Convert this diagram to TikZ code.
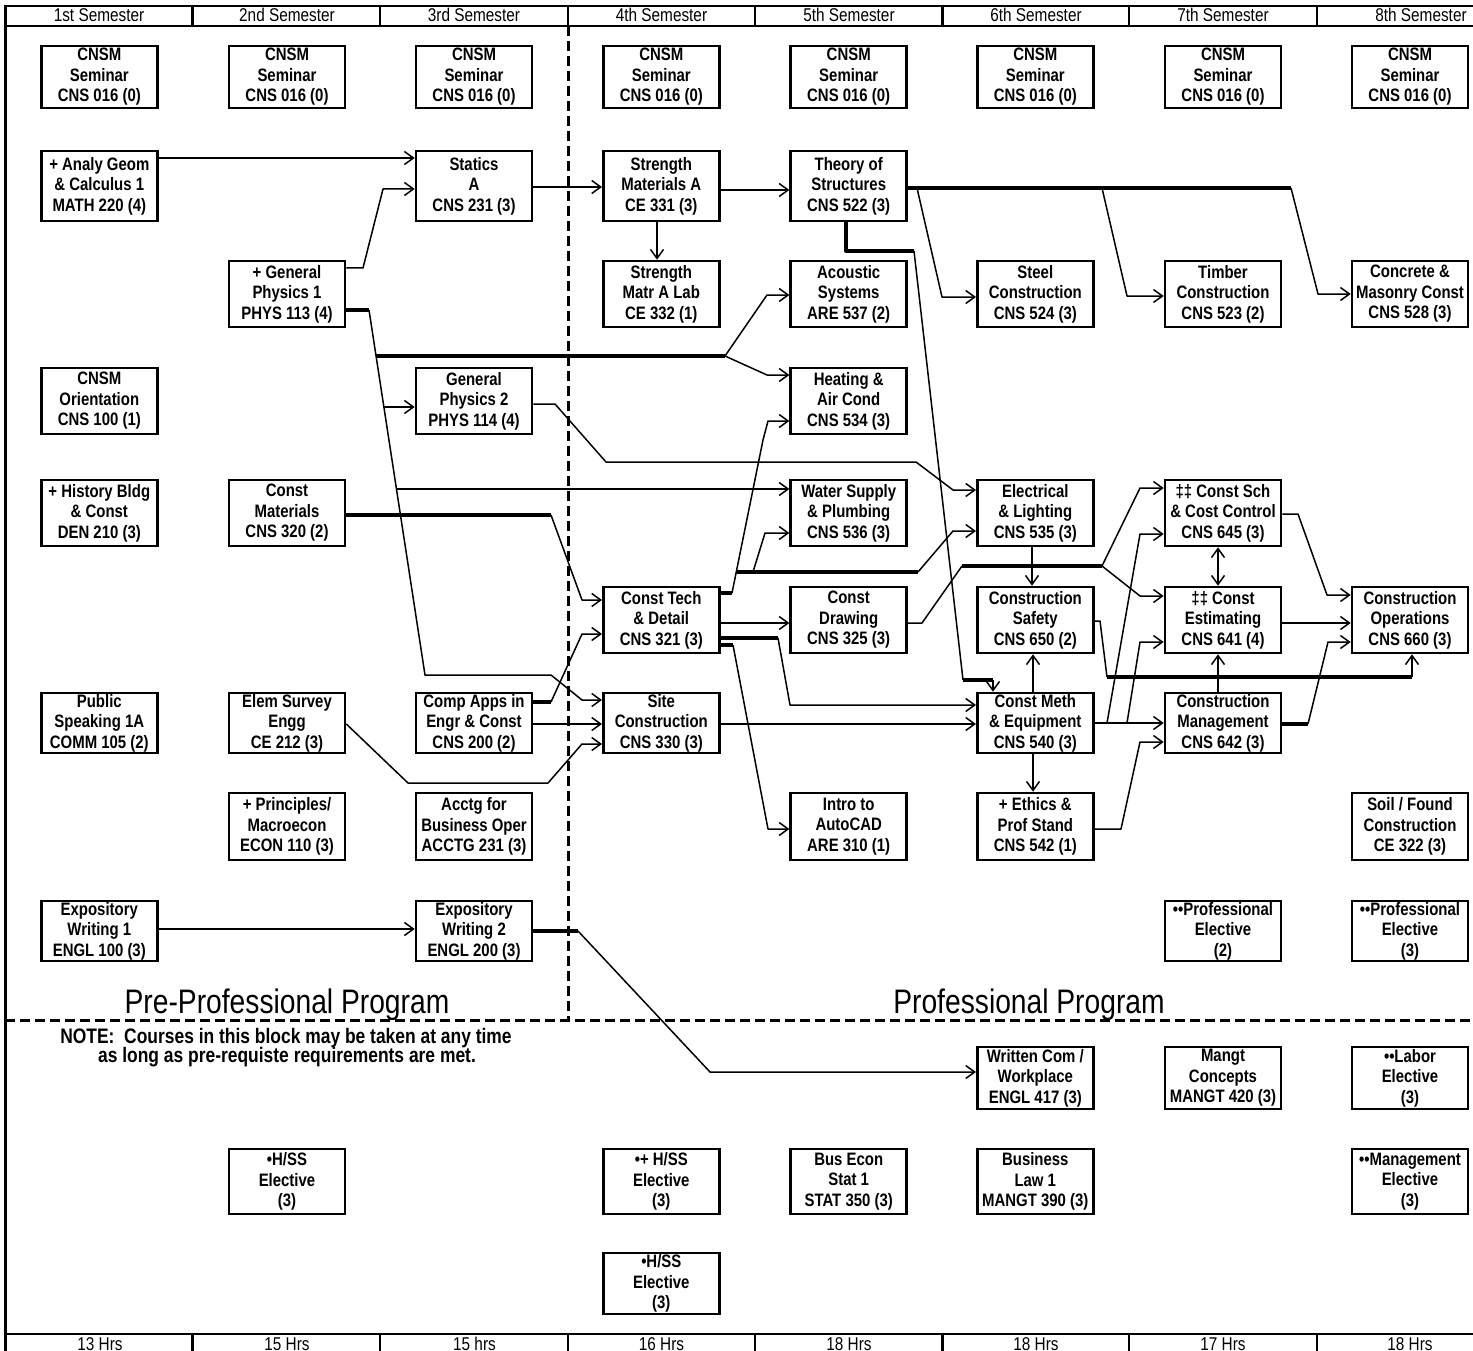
\documentclass[tikz,border=0pt]{standalone}
\usepackage{fontspec}
\setmainfont{Liberation Sans}[FakeStretch=0.83]
\usetikzlibrary{arrows.meta}
\newcommand\bxf{\bfseries\fontsize{18}{20.5}\selectfont}
\newcommand\hdf{\fontsize{18.5}{20}\selectfont}
\newcommand\bigf{\fontsize{34}{36}\selectfont}
\newcommand\notef{\bfseries\fontsize{21}{24}\selectfont}
\tikzset{
  box/.style={draw, line width=2.6pt, minimum width=116pt, inner sep=0pt, align=center, font=\bxf},
  thin0/.style={line width=1.5pt, line join=round},
  conn/.style={thin0, -{Straight Barb[length=9pt,width=13pt]}},
  dconn/.style={thin0, {Straight Barb[length=9pt,width=13pt]}-{Straight Barb[length=9pt,width=13pt]}},
  thk/.style={line width=3.4pt, line join=round},
  frame/.style={line width=2.5pt},
  dsh/.style={line width=3pt, dash pattern=on 10pt off 5pt},
  lbl/.style={inner sep=0pt, anchor=base}
}
\newcommand\course[5]{\node[box, minimum height=#4pt] (#1) at (#2,#3+#4/2) {#5};}
\begin{document}
\begin{tikzpicture}[x=1pt,y=-1pt]
\useasboundingbox (0,0) rectangle (1473,1351);
% frame
\draw[frame] (4.5,6) -- (1473,6);
\draw[frame] (4.5,26) -- (1473,26);
\draw[frame] (5.5,5) -- (5.5,1351);
\draw[frame] (4.5,1334) -- (1473,1334);
\foreach \xx in {192.5,380,568,755,942.5,1129,1317}{
  \draw[frame] (\xx,6) -- (\xx,26);
  \draw[frame] (\xx,1334) -- (\xx,1351);
}
\draw[dsh] (568,26) -- (568,1020);
\draw[dsh] (5,1020) -- (1473,1020);
% header / footer
\node[lbl,font=\hdf] (hd1) at (99,22) {1st Semester};
\node[lbl,font=\hdf] (hd2) at (287,22) {2nd Semester};
\node[lbl,font=\hdf] (hd3) at (474,22) {3rd Semester};
\node[lbl,font=\hdf] (hd4) at (661.5,22) {4th Semester};
\node[lbl,font=\hdf] (hd5) at (849,22) {5th Semester};
\node[lbl,font=\hdf] (hd6) at (1036,22) {6th Semester};
\node[lbl,font=\hdf] (hd7) at (1223,22) {7th Semester};
\node[lbl,font=\hdf] (hd8) at (1421,22) {8th Semester};
\node[lbl,font=\hdf] (ft1) at (100,1350) {13 Hrs};
\node[lbl,font=\hdf] (ft2) at (287,1350) {15 Hrs};
\node[lbl,font=\hdf] (ft3) at (474.5,1350) {15 hrs};
\node[lbl,font=\hdf] (ft4) at (661.5,1350) {16 Hrs};
\node[lbl,font=\hdf] (ft5) at (849,1350) {18 Hrs};
\node[lbl,font=\hdf] (ft6) at (1036,1350) {18 Hrs};
\node[lbl,font=\hdf] (ft7) at (1223,1350) {17 Hrs};
\node[lbl,font=\hdf] (ft8) at (1410,1350) {18 Hrs};
\node[lbl,font=\bigf] (preprog) at (287,1013) {Pre-Professional Program};
\node[lbl,font=\bigf] (profprog) at (1029,1013) {Professional Program};
\node[lbl,font=\notef] (notea) at (286,1043) {NOTE:\ \ Courses in this block may be taken at any time};
\node[lbl,font=\notef] (noteb) at (287,1062) {as long as pre-requiste requirements are met.};
% row 1
\course{semA}{99.3}{46}{62}{CNSM\\Seminar\\CNS 016 (0)}
\course{semB}{287}{46}{62}{CNSM\\Seminar\\CNS 016 (0)}
\course{semC}{474}{46}{62}{CNSM\\Seminar\\CNS 016 (0)}
\course{semD}{661.3}{46}{62}{CNSM\\Seminar\\CNS 016 (0)}
\course{semE}{848.7}{46}{62}{CNSM\\Seminar\\CNS 016 (0)}
\course{semF}{1035.3}{46}{62}{CNSM\\Seminar\\CNS 016 (0)}
\course{semG}{1223}{46}{62}{CNSM\\Seminar\\CNS 016 (0)}
\course{semH}{1410}{46}{62}{CNSM\\Seminar\\CNS 016 (0)}
% row 2
\course{anageo}{99.3}{151}{70}{+ Analy Geom\\\& Calculus 1\\MATH 220 (4)}
\course{statics}{474}{151}{70}{Statics\\A\\CNS 231 (3)}
\course{strma}{661.3}{151}{70}{Strength\\Materials A\\CE 331 (3)}
\course{theory}{848.7}{151}{70}{Theory of\\Structures\\CNS 522 (3)}
% row 3
\course{phys1}{287}{261}{66}{+ General\\Physics 1\\PHYS 113 (4)}
\course{strlab}{661.3}{261}{66}{Strength\\Matr A Lab\\CE 332 (1)}
\course{acoust}{848.7}{261}{66}{Acoustic\\Systems\\ARE 537 (2)}
\course{steel}{1035.3}{261}{66}{Steel\\Construction\\CNS 524 (3)}
\course{timber}{1223}{261}{66}{Timber\\Construction\\CNS 523 (2)}
\course{concr}{1410}{261}{66}{Concrete \&\\Masonry Const\\CNS 528 (3)}
% row 4
\course{orient}{99.3}{368}{66}{CNSM\\Orientation\\CNS 100 (1)}
\course{phys2}{474}{368}{66}{General\\Physics 2\\PHYS 114 (4)}
\course{heat}{848.7}{368}{66}{Heating \&\\Air Cond\\CNS 534 (3)}
% row 5
\course{hist}{99.3}{480}{66}{+ History Bldg\\\& Const\\DEN 210 (3)}
\course{cmat}{287}{480}{66}{Const\\Materials\\CNS 320 (2)}
\course{water}{848.7}{480}{66}{Water Supply\\\& Plumbing\\CNS 536 (3)}
\course{elec}{1035.3}{480}{66}{Electrical\\\& Lighting\\CNS 535 (3)}
\course{sched}{1223}{480}{66}{‡‡ Const Sch\\\& Cost Control\\CNS 645 (3)}
% row 6
\course{ctech}{661.3}{587}{66}{Const Tech\\\& Detail\\CNS 321 (3)}
\course{cdraw}{848.7}{587}{66}{Const\\Drawing\\CNS 325 (3)}
\course{safety}{1035.3}{587}{66}{Construction\\Safety\\CNS 650 (2)}
\course{estim}{1223}{587}{66}{‡‡ Const\\Estimating\\CNS 641 (4)}
\course{ops}{1410}{587}{66}{Construction\\Operations\\CNS 660 (3)}
% row 7
\course{speak}{99.3}{693}{60}{Public\\Speaking 1A\\COMM 105 (2)}
\course{survey}{287}{693}{60}{Elem Survey\\Engg\\CE 212 (3)}
\course{comp}{474}{693}{60}{Comp Apps in\\Engr \& Const\\CNS 200 (2)}
\course{site}{661.3}{693}{60}{Site\\Construction\\CNS 330 (3)}
\course{meth}{1035.3}{693}{60}{Const Meth\\\& Equipment\\CNS 540 (3)}
\course{mgmt}{1223}{693}{60}{Construction\\Management\\CNS 642 (3)}
% row 8
\course{econ}{287}{793}{67}{+ Principles/\\Macroecon\\ECON 110 (3)}
\course{acctg}{474}{793}{67}{Acctg for\\Business Oper\\ACCTG 231 (3)}
\course{acad}{848.7}{793}{67}{Intro to\\AutoCAD\\ARE 310 (1)}
\course{ethics}{1035.3}{793}{67}{+ Ethics \&\\Prof Stand\\CNS 542 (1)}
\course{soil}{1410}{793}{67}{Soil / Found\\Construction\\CE 322 (3)}
% row 9
\course{expa}{99.3}{901}{60}{Expository\\Writing 1\\ENGL 100 (3)}
\course{expb}{474}{901}{60}{Expository\\Writing 2\\ENGL 200 (3)}
\course{profa}{1223}{901}{60}{••Professional\\Elective\\(2)}
\course{profb}{1410}{901}{60}{••Professional\\Elective\\(3)}
% row 10
\course{wcom}{1035.3}{1047}{62}{Written Com /\\Workplace\\ENGL 417 (3)}
\course{mconc}{1223}{1047}{62}{Mangt\\Concepts\\MANGT 420 (3)}
\course{labor}{1410}{1047}{62}{••Labor\\Elective\\(3)}
% row 11
\course{hssa}{287}{1149}{65}{•H/SS\\Elective\\(3)}
\course{hssb}{661.3}{1149}{65}{•+ H/SS\\Elective\\(3)}
\course{busec}{848.7}{1149}{65}{Bus Econ\\Stat 1\\STAT 350 (3)}
\course{blaw}{1035.3}{1149}{65}{Business\\Law 1\\MANGT 390 (3)}
\course{mgel}{1410}{1149}{65}{••Management\\Elective\\(3)}
% row 12
\course{hssc}{661.3}{1253}{61}{•H/SS\\Elective\\(3)}
% ---------- connectors
\draw[conn] (anageo.east |- 0,158) -- (statics.west |- 0,158);
\draw[conn] (phys1.east |- 0,268) -- (363,268) -- (383,189) -- (statics.west |- 0,189);
\draw[thk] (phys1.east |- 0,310) -- (369,310);
\draw[conn] (369,310) -- (425,675) -- (551,675) -- (582,700) -- (site.west |- 0,700);
\draw[thk] (376,356) -- (725,356);
\draw[conn] (725,356) -- (767,295) -- (acoust.west |- 0,295);
\draw[conn] (725,356) -- (767,375) -- (heat.west |- 0,375);
\draw[conn] (384,407) -- (phys2.west |- 0,407);
\draw[conn] (397,489) -- (water.west |- 0,489);
\draw[conn] (phys2.east |- 0,404) -- (555,404) -- (606,462) -- (916,462) -- (953,490) -- (elec.west |- 0,490);
\draw[thk] (cmat.east |- 0,515) -- (551,515);
\draw[conn] (551,515) -- (582,600) -- (ctech.west |- 0,600);
\draw[thk] (comp.east |- 0,702) -- (551,702);
\draw[conn] (551,702) -- (582,634) -- (ctech.west |- 0,634);
\draw[conn] (comp.east |- 0,724) -- (site.west |- 0,724);
\draw[conn] (survey.east |- 0,724) -- (408,783) -- (548,783) -- (582,744) -- (site.west |- 0,744);
\draw[conn] (statics.east |- 0,187) -- (strma.west |- 0,187);
\draw[conn] (strma.east |- 0,190) -- (theory.west |- 0,190);
\draw[conn] (strma.south -| 657,0) -- (strlab.north -| 657,0);
\draw[thk] (theory.east |- 0,188) -- (1291,188);
\draw[conn] (1291,188) -- (1318,294) -- (concr.west |- 0,294);
\draw[conn] (1102,188) -- (1127,296) -- (timber.west |- 0,296);
\draw[conn] (917,188) -- (942,297) -- (steel.west |- 0,297);
\draw[thk] (theory.south -| 846,0) -- (846,251) -- (914,251);
\draw[thin0] (914,251) -- (963,680);
\draw[thk] (963,680) -- (993,680);
\draw[conn] (993,680) -- (meth.north -| 993,0);
\draw[thk] (ctech.east |- 0,593) -- (732,593);
\draw[conn] (732,593) -- (763,440) -- (768,421) -- (heat.west |- 0,421);
\draw[thk] (736,572) -- (918,572);
\draw[conn] (918,572) -- (953,531) -- (elec.west |- 0,531);
\draw[conn] (753,572) -- (765,533) -- (water.west |- 0,533);
\draw[conn] (ctech.east |- 0,623) -- (cdraw.west |- 0,623);
\draw[thk] (ctech.east |- 0,638) -- (778,638);
\draw[conn] (778,638) -- (790,705) -- (meth.west |- 0,705);
\draw[thk] (ctech.east |- 0,645) -- (733,645);
\draw[conn] (733,645) -- (768,829) -- (acad.west |- 0,829);
\draw[conn] (site.east |- 0,724) -- (meth.west |- 0,724);
\draw[thin0] (cdraw.east |- 0,623) -- (922,623) -- (962,566);
\draw[thk] (962,566) -- (1102,566);
\draw[conn] (1102,566) -- (1140,488) -- (sched.west |- 0,488);
\draw[conn] (1102,566) -- (1140,596) -- (estim.west |- 0,596);
\draw[conn] (elec.south -| 1032,0) -- (safety.north -| 1032,0);
\draw[conn] (meth.north -| 1033,0) -- (safety.south -| 1033,0);
\draw[conn] (meth.south -| 1033,0) -- (ethics.north -| 1033,0);
\draw[thin0] (safety.east |- 0,621) -- (1100,621) -- (1107,677);
\draw[thk] (1107,677) -- (1412,677);
\draw[conn] (1412,677) -- (ops.south -| 1412,0);
\draw[conn] (meth.east |- 0,723) -- (mgmt.west |- 0,723);
\draw[conn] (1107,723) -- (1140,534) -- (sched.west |- 0,534);
\draw[conn] (1127,723) -- (1140,642) -- (estim.west |- 0,642);
\draw[conn] (ethics.east |- 0,829) -- (1121,829) -- (1140,742) -- (mgmt.west |- 0,742);
\draw[dconn] (sched.south -| 1218,0) -- (estim.north -| 1218,0);
\draw[conn] (mgmt.north -| 1218,0) -- (estim.south -| 1218,0);
\draw[conn] (sched.east |- 0,514) -- (1298,514) -- (1327,595) -- (ops.west |- 0,595);
\draw[conn] (estim.east |- 0,623) -- (ops.west |- 0,623);
\draw[thk] (mgmt.east |- 0,724) -- (1308,724);
\draw[conn] (1308,724) -- (1328,642) -- (ops.west |- 0,642);
\draw[conn] (expa.east |- 0,929) -- (expb.west |- 0,929);
\draw[thk] (expb.east |- 0,931) -- (578,931);
\draw[conn] (578,931) -- (710,1072) -- (wcom.west |- 0,1072);
\end{tikzpicture}
\end{document}
